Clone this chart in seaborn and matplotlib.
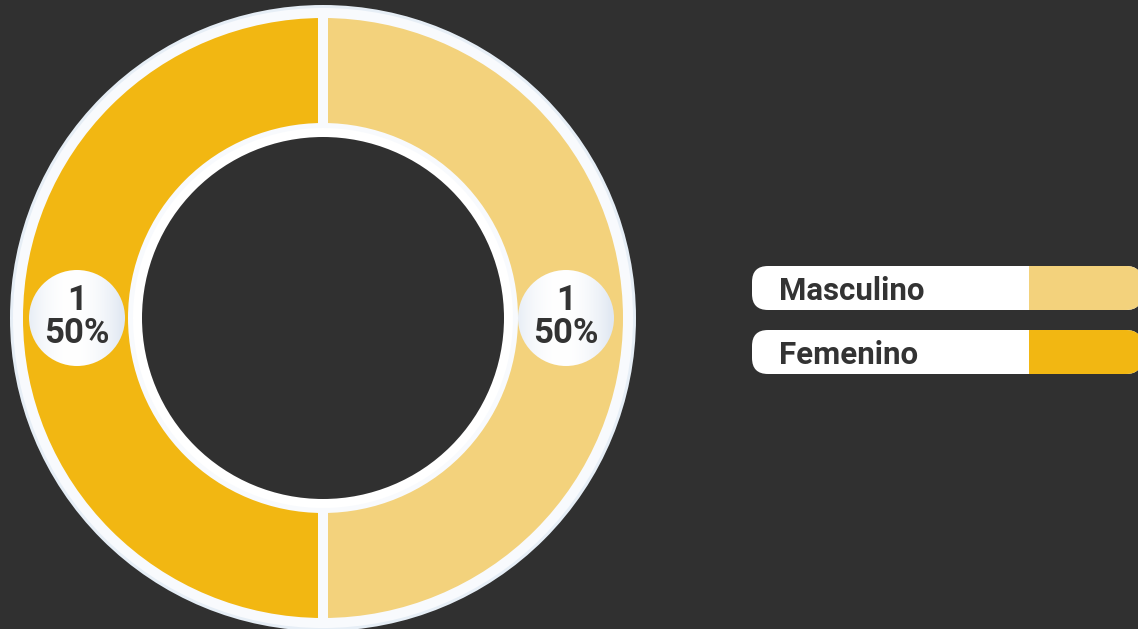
import matplotlib
matplotlib.use("Agg")
import matplotlib.pyplot as plt
import numpy as np
import seaborn as sns
from matplotlib.patches import Circle, FancyBboxPatch, Rectangle

categories = ["Masculino", "Femenino"]
values = [1, 1]
colors = ["#F3D27C", "#F2B712"]

BG = "#303030"
sns.set_theme(style="white")
plt.rcParams["font.family"] = ["Roboto", "DejaVu Sans"]

W, H = 1138, 629
fig = plt.figure(figsize=(W / 100, H / 100), dpi=100, facecolor=BG)
ax = fig.add_axes([0, 0, 1, 1])
ax.set_facecolor(BG)

cx, cy = 323, H - 318
R_out = 313
ax.add_patch(Circle((cx, cy), R_out, facecolor="#E6EEF6", edgecolor="none", zorder=1))

px = 0.72  # points per pixel
wedges, _ = ax.pie(values, colors=colors, startangle=90, counterclock=False,
                   center=(cx, cy), radius=305, frame=True,
                   wedgeprops=dict(width=115, edgecolor="#F8FAFD", linewidth=10 * px))
for w in wedges:
    w.set_zorder(2)
ax.set_xlim(0, W)
ax.set_ylim(0, H)
ax.set_aspect("equal")
ax.axis("off")

ax.add_patch(Circle((cx, cy), 190, facecolor="white", edgecolor="none", zorder=3))
ax.add_patch(Circle((cx, cy), 181, facecolor=BG, edgecolor="none", zorder=4))

# gradient for label bubbles
xs = np.linspace(-1, 1, 200)
grad = np.clip(1 - 0.9 * ((xs + 0.1) ** 2), 0, 1)
c_edge = np.array([0.88, 0.91, 0.95])
c_mid = np.array([1.0, 1.0, 1.0])
img = (c_edge[None, :] + (c_mid - c_edge)[None, :] * grad[:, None])[None, :, :]
img = np.repeat(img, 10, axis=0)

total = sum(values)
label_pos = [(566, H - 318), (77, H - 318)]
for (lx, ly), v in zip(label_pos, values):
    r = 48
    circ = Circle((lx, ly), r, facecolor="none", edgecolor="none", zorder=5)
    ax.add_patch(circ)
    im = ax.imshow(img, extent=(lx - r, lx + r, ly - r, ly + r), zorder=5,
                   interpolation="bilinear", aspect="auto")
    im.set_clip_path(circ)
    ax.text(lx, ly + 1, f"{v}\n{v / total * 100:.0f}%", ha="center", va="center",
            fontsize=25, fontweight="bold", color="#333333", linespacing=0.98, zorder=6)

# legend
box_x0, box_x1, box_h = 752, 1142, 44
for i, (name, col) in enumerate(zip(categories, colors)):
    top = 266 + i * 64
    y0 = H - top - box_h
    box = FancyBboxPatch((box_x0, y0), box_x1 - box_x0, box_h,
                         boxstyle="round,pad=0,rounding_size=16",
                         facecolor="white", edgecolor="none", zorder=5)
    ax.add_patch(box)
    sw = Rectangle((1029, y0), box_x1 - 1029, box_h, facecolor=col,
                   edgecolor="none", zorder=6)
    ax.add_patch(sw)
    sw.set_clip_path(box)
    ax.text(779, y0 + box_h / 2, name, ha="left", va="center_baseline",
            fontsize=22.5, fontweight="bold", color="#333333", zorder=7)

ax.set_xlim(0, W)
ax.set_ylim(0, H)
fig.savefig("out.png", dpi=100, facecolor=BG)
